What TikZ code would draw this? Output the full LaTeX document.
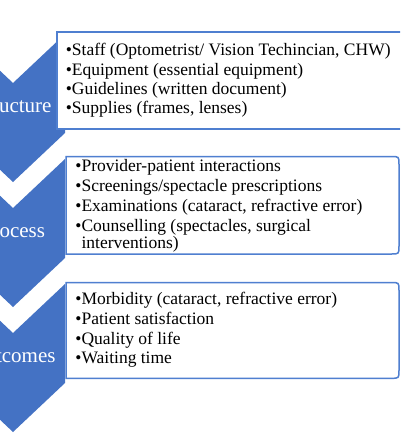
\documentclass[tikz,border=0pt]{standalone}
\usepackage{fontspec}
\setmainfont{Liberation Serif}
\definecolor{chev}{HTML}{4472C4}
\definecolor{boxblue}{HTML}{4F7FD0}
\tikzset{
  chevshape/.style={fill=chev, draw=none},
  boxline/.style={draw=boxblue, line width=1.5pt, fill=white},
  lbl/.style={text=white, font=\fontsize{21}{21}\selectfont, inner sep=0pt, anchor=base},
  item/.style={text=black, font=\fontsize{17.5}{17.5}\selectfont, inner sep=0pt, anchor=base west}
}
\begin{document}
\begin{tikzpicture}[x=1pt, y=-1pt]
\useasboundingbox (0,0) rectangle (400,440);
\clip (0,0) rectangle (400,440);
\fill[white] (0,0) rectangle (400,440);
% chevrons
\foreach \yt/\nm in {34/c1, 159/c2, 284/c3}{
  \fill[chevshape] (-39,\yt) -- (13,\yt+49) -- (65,\yt) -- (65,\yt+99) -- (13,\yt+148) -- (-39,\yt+99) -- cycle;
}
% boxes
\draw[boxline] (57,32) -- (420,32) -- (420,129) -- (57,129) -- cycle;
\draw[boxline] (66,156.5) -- (391,156.5) .. controls (399,156.5) .. (399,164.5) -- (399,246) .. controls (399,254) .. (391,254) -- (66,254) -- cycle;
\draw[boxline] (66,282.5) -- (391,282.5) .. controls (399,282.5) .. (399,290.5) -- (399,370.3) .. controls (399,378.3) .. (391,378.3) -- (66,378.3) -- cycle;
% labels
\node[lbl] (lstruct) at (13,112.5) {Structure};
\node[lbl] (lproc) at (13,237) {Process};
\node[lbl] (lout) at (13,362) {Outcomes};
% box 1 text
\node[item] (s1) at (65.6,55) {•Staff (Optometrist/ Vision Techincian, CHW)};
\node[item] (s2) at (65.6,75) {•Equipment (essential equipment)};
\node[item] (s3) at (65.6,94.3) {•Guidelines (written document)};
\node[item] (s4) at (65.6,113.5) {•Supplies (frames, lenses)};
% box 2 text
\node[item] (p1) at (75.2,171.5) {•Provider-patient interactions};
\node[item] (p2) at (75.2,191.5) {•Screenings/spectacle prescriptions};
\node[item] (p3) at (75.2,211.5) {•Examinations (cataract, refractive error)};
\node[item] (p4) at (75.2,231.5) {•Counselling (spectacles, surgical};
\node[item] (p5) at (75.2,248.3) {\phantom{•}interventions)};
% box 3 text
\node[item] (o1) at (75.2,304.5) {•Morbidity (cataract, refractive error)};
\node[item] (o2) at (75.2,324.3) {•Patient satisfaction};
\node[item] (o3) at (75.2,344.5) {•Quality of life};
\node[item] (o4) at (75.2,363.5) {•Waiting time};
\end{tikzpicture}
\end{document}
